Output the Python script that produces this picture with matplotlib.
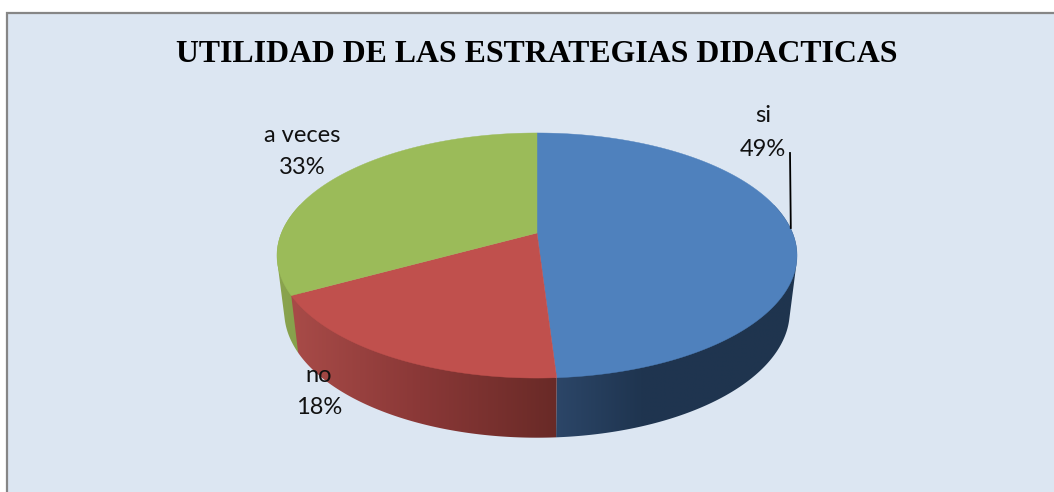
import numpy as np
import matplotlib
matplotlib.use("Agg")
import matplotlib.pyplot as plt
from matplotlib.colors import to_rgb
from matplotlib.patches import Polygon

title = "UTILIDAD DE LAS ESTRATEGIAS DIDACTICAS"
labels = ["si", "no", "a veces"]
values = [49, 18, 33]

top_colors = ["#4f81bd", "#c0504d", "#9bbb59"]
# wall shading: (pixel x, colour) stops per slice
wall_stops = [
    [(556, "#2c4668"), (640, "#1f3550"), (800, "#1f344e")],
    [(292, "#a84b48"), (420, "#8a3837"), (556, "#692a27")],
    [(270, "#8ca550"), (300, "#86a04b")],
]
wall_order = [2.0, 2.2, 2.1]
label_xy = [(763, 116, 149), (319, 376, 407), (302, 136, 167)]

W, H = 1054, 492
CX, CY = 537.0, 233.0
A, D, K = 255.6, 118.4, 0.1837
DS, DD, DY = 0.972, 55.3, 1.03


def project(t):
    """Perspective view of the pie's unit circle; t is clockwise from 12 o'clock."""
    x, y = np.sin(t), np.cos(t)
    w = 1 + K * y
    return CX + A * x / w, CY - D * y / w


def project_bottom(t):
    x, y = project(t)
    return CX + DS * (x - CX), CY + DD + DY * (y - CY)


def convex_hull(points):
    pts = sorted(set(map(tuple, points)))

    def half(seq):
        out = []
        for p in seq:
            while len(out) >= 2 and ((out[-1][0] - out[-2][0]) * (p[1] - out[-2][1])
                                     - (out[-1][1] - out[-2][1]) * (p[0] - out[-2][0])) <= 0:
                out.pop()
            out.append(p)
        return out[:-1]

    return np.array(half(pts) + half(pts[::-1]))


fig = plt.figure(figsize=(W / 100, H / 100), dpi=100, facecolor="white")
ax = fig.add_axes([0, 0, 1, 1])
ax.axis("off")

ax.add_patch(plt.Rectangle((7, 13), W + 20, H + 20, facecolor="#dce6f2",
                           edgecolor="#868686", linewidth=1.6, zorder=0))

edges = np.cumsum([0] + values) / sum(values) * 2 * np.pi

# side walls: horizontal gradients clipped to each wall's outline
for i in range(len(values)):
    ts = np.linspace(edges[i], edges[i + 1], 400)
    ts = ts[np.cos(ts) <= 0.25]
    xt, yt = project(ts)
    xb, yb = project_bottom(ts)
    outline = convex_hull(np.c_[np.r_[xt, xb], np.r_[yt, yb]])
    poly = Polygon(outline, closed=True, facecolor="none", edgecolor="none",
                   transform=ax.transData)
    ax.add_patch(poly)
    x0, x1 = outline[:, 0].min() - 2, outline[:, 0].max() + 2
    grid = np.linspace(x0, x1, 256)
    sx = [s[0] for s in wall_stops[i]]
    rgb = np.array([to_rgb(s[1]) for s in wall_stops[i]])
    img = np.stack([np.interp(grid, sx, rgb[:, j]) for j in range(3)], axis=1)[None, :, :]
    im = ax.imshow(img, extent=(x0, x1, 460, 200), aspect="auto",
                   interpolation="bilinear", zorder=wall_order[i])
    im.set_clip_path(poly)

# top faces
for i in range(len(values)):
    ts = np.linspace(edges[i], edges[i + 1], 200)
    x, y = project(ts)
    ax.fill(np.r_[CX, x], np.r_[CY, y], color=top_colors[i], lw=0.3, zorder=3)

# labels
font = ["Lato", "DejaVu Sans"]
for lab, val, (lx, y1, y2) in zip(labels, values, label_xy):
    ax.text(lx, y1, lab, ha="center", va="center", fontsize=17, family=font,
            color="#111111", zorder=5)
    ax.text(lx, y2, f"{val}%", ha="center", va="center", fontsize=17, family=font,
            color="#111111", zorder=5)

ax.plot([790, 790.8], [153, 228], color="black", lw=1.3, zorder=4)

ax.text(536.5, 55, title, ha="center", va="center", fontsize=22.9, fontweight="bold",
        family="Liberation Serif", color="black", zorder=5)

ax.set_xlim(0, W)
ax.set_ylim(H, 0)
fig.savefig("out.png", dpi=100, facecolor="white")
